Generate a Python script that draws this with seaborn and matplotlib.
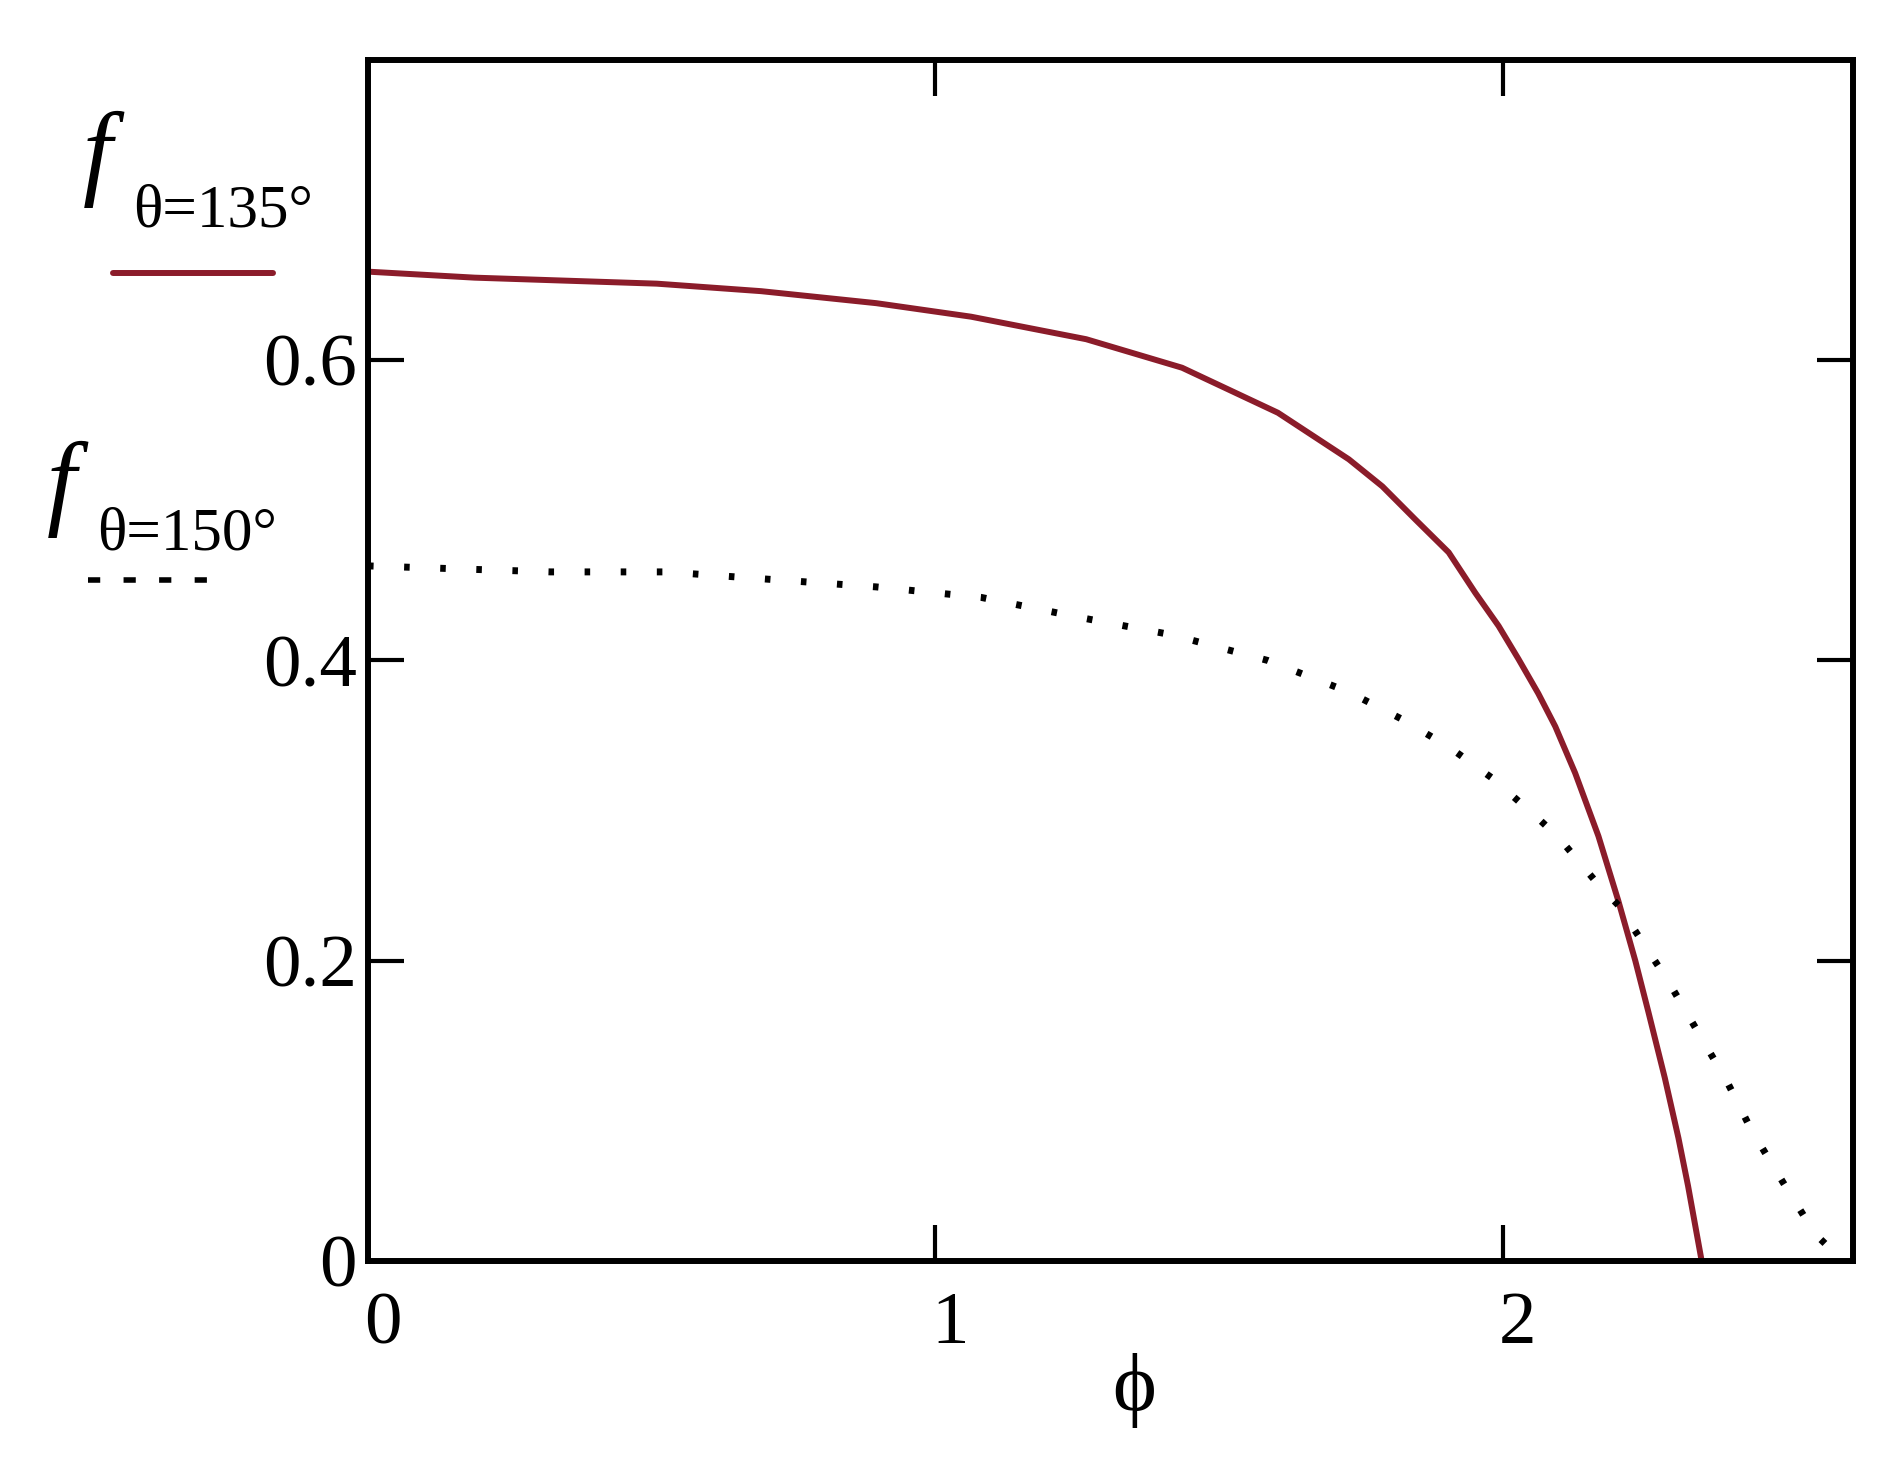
import numpy as np
import pandas as pd
import seaborn as sns
import matplotlib.pyplot as plt
import matplotlib.transforms as mtransforms
from matplotlib.lines import Line2D

# values
phi_135 = [0.0, 0.188, 0.509, 0.693, 0.896, 1.063, 1.266, 1.435, 1.604, 1.729,
           1.788, 1.846, 1.905, 1.952, 1.993, 2.028, 2.063, 2.093, 2.128, 2.169,
           2.204, 2.234, 2.257, 2.286, 2.310, 2.327, 2.351]
f_135 = [0.659, 0.655, 0.651, 0.646, 0.638, 0.629, 0.614, 0.595, 0.565, 0.534,
         0.516, 0.494, 0.472, 0.445, 0.423, 0.401, 0.378, 0.356, 0.325, 0.283,
         0.240, 0.200, 0.166, 0.122, 0.082, 0.050, 0.0]

phi_150 = [0.0, 0.322, 0.525, 0.710, 0.896, 1.081, 1.250, 1.418, 1.586, 1.729,
           1.822, 1.907, 1.984, 2.065, 2.099, 2.166, 2.204, 2.291, 2.339, 2.395,
           2.439, 2.495, 2.551, 2.60]
f_150 = [0.463, 0.459, 0.459, 0.454, 0.449, 0.442, 0.429, 0.417, 0.400, 0.379,
         0.361, 0.342, 0.321, 0.294, 0.282, 0.252, 0.237, 0.187, 0.156, 0.120,
         0.087, 0.052, 0.018, 0.0]

x_ticks = [0, 1, 2]
y_ticks = [0, 0.2, 0.4, 0.6]
y_tick_labels = ["0", "0.2", "0.4", "0.6"]

red = "#8b1c2a"
dot_style = (0, (0.8, 4.4))

sns.set_style("white")
plt.rcParams["font.family"] = ["Liberation Serif", "DejaVu Serif"]
plt.rcParams["text.color"] = "black"

df135 = pd.DataFrame({"phi": phi_135, "f": f_135})
df150 = pd.DataFrame({"phi": phi_150, "f": f_150})

fig = plt.figure(figsize=(19.02, 14.70), dpi=100)
ax = fig.add_axes([0.1935, 0.1422, 0.7808, 0.8170])

sns.lineplot(data=df135, x="phi", y="f", ax=ax, color=red, lw=4.3,
             solid_joinstyle="round")
sns.lineplot(data=df150, x="phi", y="f", ax=ax, color="black", lw=5,
             linestyle=dot_style)

ax.set_xlim(0, 5 * np.pi / 6)
ax.set_ylim(0, 0.8)
ax.set_xticks(x_ticks)
ax.set_xticklabels([str(t) for t in x_ticks])
ax.set_yticks(y_ticks)
ax.set_yticklabels(y_tick_labels)
ax.tick_params(direction="in", length=26, width=3, colors="black",
               labelsize=54, top=True, right=True, bottom=True, left=True,
               pad=8)
ax.tick_params(axis="x", pad=22)
for spine in ax.spines.values():
    spine.set_linewidth(4.3)
    spine.set_color("black")

# x tick labels sit a little right of their ticks in the reference
shift = mtransforms.ScaledTranslation(0.15, 0, fig.dpi_scale_trans)
for lbl in ax.get_xticklabels():
    lbl.set_transform(lbl.get_transform() + shift)

ax.set_xlabel("\u03d5", fontsize=60, color="black")
ax.xaxis.set_label_coords(0.516, -0.076)
ax.set_ylabel("")

# Mathcad-style trace labels on the left
fig.text(0.0436, 0.874, "f", fontsize=76, style="italic", va="baseline")
fig.text(0.070, 0.8456, "\u03b8=135\u00b0", fontsize=44, va="baseline")
fig.add_artist(Line2D([0.0594, 0.1435], [0.8143, 0.8143], color=red, lw=4.3))

fig.text(0.0247, 0.6497, "f", fontsize=76, style="italic", va="baseline")
fig.text(0.051, 0.6259, "\u03b8=150\u00b0", fontsize=44, va="baseline")
fig.add_artist(Line2D([0.0463, 0.112], [0.6054, 0.6054], color="black", lw=4,
                      linestyle=(0, (2.2, 4.2))))

fig.savefig("out.png", dpi=100)
